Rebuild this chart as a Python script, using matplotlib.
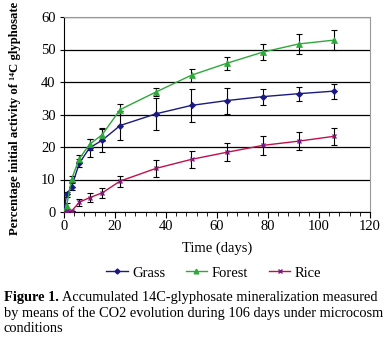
import matplotlib
matplotlib.use("Agg")
import matplotlib.pyplot as plt
from matplotlib.ticker import MultipleLocator
from matplotlib.lines import Line2D

# Sampling days
days = [0, 1, 3, 6, 10, 15, 22, 36, 50, 64, 78, 92, 106]

# Mean mineralization (%) and error bars
grass = [0, 5.4, 7.8, 15.0, 19.7, 22.1, 26.6, 30.2, 32.8, 34.3, 35.5, 36.4, 37.2]
grass_err = [0, 0.8, 1.0, 1.2, 2.8, 3.6, 4.5, 5.0, 5.0, 4.0, 2.5, 2.1, 2.3]

forest = [0, 1.8, 10.2, 16.4, 20.8, 23.8, 31.5, 36.9, 42.1, 45.8, 49.2, 51.7, 52.9]
forest_err = [0, 1.0, 1.0, 1.1, 1.6, 1.8, 1.8, 1.3, 2.0, 2.0, 2.5, 3.0, 3.2]

rice = [0, 0.3, 0.3, 3.0, 4.4, 5.9, 9.5, 13.4, 16.2, 18.4, 20.5, 21.8, 23.3]
rice_err = [0, 0, 0, 1.0, 1.4, 1.6, 1.7, 2.6, 2.7, 2.8, 3.0, 2.8, 2.6]

serif = ["Liberation Serif", "DejaVu Serif"]

fig = plt.figure(figsize=(3.89, 3.44), dpi=100)
ax = fig.add_axes([64 / 389, 1 - 212 / 344, 306 / 389, 195 / 344])

series = [
    ("Grass", grass, grass_err, "#1a1a80", "D", 3.2, "#1a1a80"),
    ("Forest", forest, forest_err, "#2ea83a", "^", 4.2, "#2ea83a"),
    ("Rice", rice, rice_err, "#c0104a", "x", 3.5, "#7a1a80"),
]
handles = []
for name, vals, err, col, mk, ms, mec in series:
    ax.errorbar(days, vals, yerr=err, fmt="none", ecolor="black",
                elinewidth=0.8, capsize=2.5, capthick=0.8, zorder=2)
    ax.plot(days, vals, color=col, marker=mk, markersize=ms, linewidth=1.0,
            mec=mec, markeredgewidth=1.0 if mk == "x" else 0.5, zorder=3)
    handles.append(Line2D([], [], color=col, marker=mk, markersize=ms * 0.8,
                          mec=mec, linewidth=1.0, label=name))

ax.set_xlim(0, 120)
ax.set_ylim(0, 60)
ax.xaxis.set_major_locator(MultipleLocator(20))
ax.xaxis.set_minor_locator(MultipleLocator(4))
ax.yaxis.set_major_locator(MultipleLocator(10))
ax.grid(axis="y", color="black", linewidth=0.9)
ax.set_axisbelow(True)
for side in ["top", "right"]:
    ax.spines[side].set_color("#999999")
for side in ["left", "bottom"]:
    ax.spines[side].set_color("black")
ax.tick_params(axis="x", which="major", direction="out", length=4, width=0.8, pad=2)
ax.tick_params(axis="x", which="minor", direction="out", length=3, width=0.6)
ax.tick_params(axis="y", which="major", length=3, width=0.8, pad=3)
for lab in ax.get_xticklabels() + ax.get_yticklabels():
    lab.set_fontfamily(serif)
    lab.set_fontsize(10.5)

ax.set_xlabel("Time (days)", fontfamily=serif, fontsize=10.5, labelpad=6)
fig.text(15 / 389, 1 - 118 / 344,
         "Percentage initial activity of \u00b9\u2074C glyphosate",
         rotation=90, ha="center", va="center", fontfamily=serif,
         fontsize=9.2, fontweight="bold")

fig.legend(handles=handles, loc="center", bbox_to_anchor=(0.549, 1 - 273 / 344),
           ncol=3, frameon=False, prop={"family": serif, "size": 10.5},
           handlelength=1.5, columnspacing=1.4, handletextpad=0.3)

# caption
cap_size = 10.4
bold = fig.text(4 / 389, 1 - 298 / 344, "Figure 1.", fontfamily=serif,
                fontsize=cap_size, fontweight="bold", va="center")
fig.canvas.draw()
bb = bold.get_window_extent(renderer=fig.canvas.get_renderer())
x_next = bb.x1 / fig.bbox.width + 3 / 389
fig.text(x_next, 1 - 298 / 344,
         "Accumulated 14C-glyphosate mineralization measured",
         fontfamily=serif, fontsize=cap_size, va="center")
fig.text(4 / 389, 1 - 313 / 344,
         "by means of the CO2 evolution during 106 days under microcosm",
         fontfamily=serif, fontsize=cap_size, va="center")
fig.text(4 / 389, 1 - 328 / 344, "conditions", fontfamily=serif,
         fontsize=cap_size, va="center")

plt.savefig("out.png", dpi=100)
